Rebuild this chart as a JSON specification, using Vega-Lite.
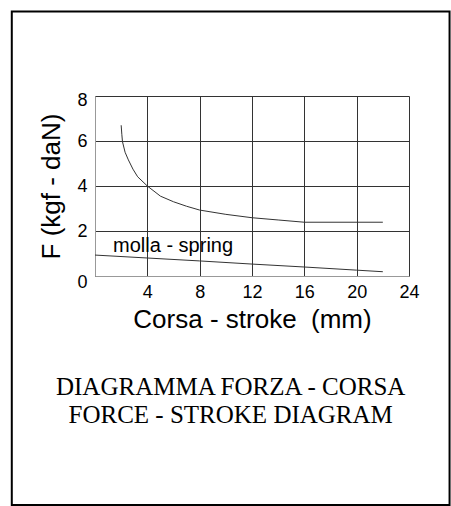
{
  "$schema": "https://vega.github.io/schema/vega-lite/v6.json",
  "width": 314,
  "height": 180,
  "autosize": "none",
  "padding": {"left": 95, "top": 96, "right": 42, "bottom": 230},
  "background": "white",
  "config": {"view": {"stroke": null}, "font": "Liberation Sans"},
  "title": {
    "text": ["DIAGRAMMA FORZA - CORSA", "FORCE - STROKE DIAGRAM"],
    "orient": "bottom",
    "anchor": "middle",
    "frame": "bounds",
    "font": "Liberation Serif",
    "fontSize": 25,
    "fontWeight": "normal",
    "color": "black",
    "lineHeight": 28,
    "offset": -131
  },
  "datasets": {
    "curves": [
      {"series": "force", "x": 2.0, "y": 6.7},
      {"series": "force", "x": 2.05, "y": 6.3},
      {"series": "force", "x": 2.1, "y": 5.97},
      {"series": "force", "x": 2.3, "y": 5.5},
      {"series": "force", "x": 2.55, "y": 5.16},
      {"series": "force", "x": 2.9, "y": 4.75},
      {"series": "force", "x": 3.26, "y": 4.41},
      {"series": "force", "x": 4.0, "y": 4.0},
      {"series": "force", "x": 5.0, "y": 3.55},
      {"series": "force", "x": 6.0, "y": 3.3},
      {"series": "force", "x": 7.0, "y": 3.1},
      {"series": "force", "x": 8.0, "y": 2.93},
      {"series": "force", "x": 10.0, "y": 2.74},
      {"series": "force", "x": 12.0, "y": 2.59},
      {"series": "force", "x": 14.0, "y": 2.49},
      {"series": "force", "x": 16.0, "y": 2.39},
      {"series": "force", "x": 22.0, "y": 2.39},
      {"series": "spring", "x": 0, "y": 0.93},
      {"series": "spring", "x": 4, "y": 0.8},
      {"series": "spring", "x": 8, "y": 0.67},
      {"series": "spring", "x": 12, "y": 0.53},
      {"series": "spring", "x": 16, "y": 0.4},
      {"series": "spring", "x": 20, "y": 0.26},
      {"series": "spring", "x": 22, "y": 0.19}
    ],
    "labels": [
      {"x": 1.38, "y": 1.08, "label": "molla - spring"}
    ]
  },
  "layer": [
    {
      "data": {"name": "curves"},
      "mark": {"type": "line", "color": "#333333", "strokeWidth": 1},
      "encoding": {
        "x": {
          "field": "x",
          "type": "quantitative",
          "scale": {"domain": [0, 24], "nice": false, "zero": false},
          "axis": {
            "values": [0, 2, 4, 6, 8, 10, 12, 14, 16, 18, 20, 22, 24],
            "labelExpr": "datum.value % 4 == 0 && datum.value > 0 ? datum.label : ''",
            "ticks": false,
            "grid": true,
            "gridColor": "#333333",
            "gridOpacity": 1,
            "gridWidth": 1,
            "domainColor": "#999999",
            "labelFont": "Liberation Sans",
            "labelFontSize": 18,
            "labelColor": "black",
            "labelPadding": 7,
            "labelFlush": false,
            "labelOverlap": false,
            "title": "Corsa - stroke \u00a0(mm)",
            "titleFont": "Liberation Sans",
            "titleFontSize": 26,
            "titleFontWeight": "normal",
            "titleColor": "black",
            "titlePadding": 5
          }
        },
        "y": {
          "field": "y",
          "type": "quantitative",
          "scale": {"domain": [0, 8], "nice": false},
          "axis": {
            "values": [0, 2, 4, 6, 8],
            "ticks": false,
            "grid": true,
            "gridColor": "#333333",
            "gridOpacity": 1,
            "gridWidth": 1,
            "domainColor": "#999999",
            "labelFont": "Liberation Sans",
            "labelFontSize": 18,
            "labelColor": "black",
            "labelPadding": 8,
            "labelFlush": false,
            "labelOverlap": false,
            "labelOffset": {"condition": [{"test": "datum.value == 0", "value": 6}, {"test": "datum.value == 8", "value": 4}], "value": 0},
            "title": "F (kgf - daN)",
            "titleFont": "Liberation Sans",
            "titleFontSize": 26,
            "titleFontWeight": "normal",
            "titleColor": "black",
            "titlePadding": 12
          }
        },
        "detail": {"field": "series"}
      }
    },
    {
      "data": {"name": "labels"},
      "mark": {"type": "text", "align": "left", "baseline": "alphabetic", "font": "Liberation Sans", "fontSize": 20, "color": "black"},
      "encoding": {
        "x": {"field": "x", "type": "quantitative"},
        "y": {"field": "y", "type": "quantitative"},
        "text": {"field": "label"}
      }
    },
    {
      "data": {"values": [{}]},
      "mark": {"type": "rect", "fill": null, "stroke": "black", "strokeWidth": 2},
      "encoding": {
        "x": {"datum": -6.36},
        "x2": {"datum": 27.1},
        "y": {"datum": 11.76},
        "y2": {"datum": -10.18}
      }
    }
  ]
}
